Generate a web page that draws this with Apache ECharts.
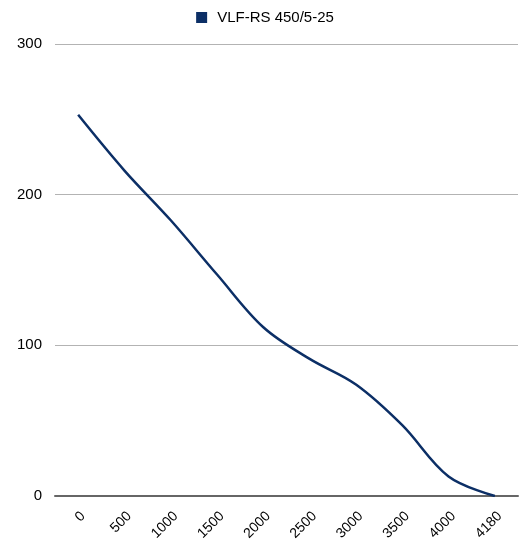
<!DOCTYPE html>
<html>
<head>
<meta charset="utf-8">
<script src="https://cdn.jsdelivr.net/npm/echarts@6/dist/echarts.min.js"></script>
<style>
html,body{margin:0;padding:0;background:#fff;}
#chart{width:530px;height:545px;}
</style>
</head>
<body>
<div id="chart"></div>
<script>
// 横轴：风量
var categories = ["0", "500", "1000", "1500", "2000", "2500", "3000", "3500", "4000", "4180"];
// 压力曲线
var values = [253, 216, 183, 147, 112, 91, 74, 47, 13, 0];
var yTicks = [0, 100, 200, 300];
var seriesName = "VLF-RS 450/5-25";

var myChart = echarts.init(document.getElementById("chart"));
var option = {
	animation: false,
	textStyle: { fontFamily: "Liberation Sans" },
	legend: {
		top: 5,
		left: "center",
		icon: "rect",
		itemWidth: 11,
		itemHeight: 11,
		itemGap: 8,
		textStyle: { fontSize: 15, color: "#000", padding: [0, 0, 0, 5] },
		data: [seriesName]
	},
	grid: { left: 55, right: 12, top: 44, bottom: 49, containLabel: false },
	xAxis: {
		type: "category",
		data: categories,
		boundaryGap: true,
		axisLine: { lineStyle: { color: "#666", width: 2 } },
		axisTick: { show: false },
		// 标签略向右上偏移
		axisLabel: { rotate: 45, fontSize: 14, color: "#000", margin: 23, padding: [0, -7, 0, 0] }
	},
	yAxis: {
		type: "value",
		min: yTicks[0],
		max: yTicks[yTicks.length - 1],
		interval: 100,
		axisLine: { show: false },
		axisTick: { show: false },
		axisLabel: { fontSize: 15, color: "#000", margin: 13 },
		splitLine: { lineStyle: { color: "#b3b3b3", width: 1 } }
	},
	series: [
		{
			name: seriesName,
			type: "line",
			data: values,
			smooth: 0.35,
			symbol: "none",
			lineStyle: { color: "#0c2f66", width: 2.5 },
			itemStyle: { color: "#0c2f66" }
		}
	]
};
myChart.setOption(option);
</script>
</body>
</html>
